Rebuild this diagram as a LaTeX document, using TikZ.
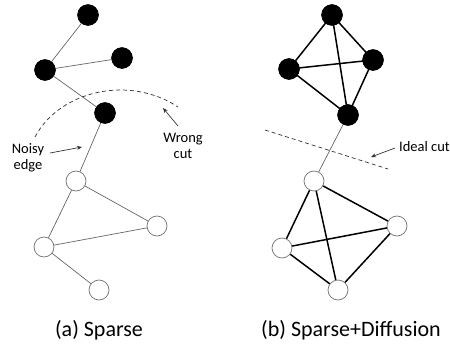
\documentclass[tikz,border=0pt]{standalone}
\usepackage{fontspec}
\setmainfont{Carlito}
\usetikzlibrary{arrows.meta}
\begin{document}
\begin{tikzpicture}[x=1pt,y=-1pt,
  bnode/.style={circle,fill=black,draw=black,minimum size=21pt,inner sep=0pt},
  wnode/.style={circle,fill=white,draw=black!55,line width=0.7pt,minimum size=20pt,inner sep=0pt},
  thin edge/.style={draw=black!60,line width=0.7pt},
  thick edge/.style={draw=black,line width=1.5pt},
  cutline/.style={draw=black!80,line width=0.7pt,dash pattern=on 4pt off 3pt},
  pointer/.style={draw=black!80,line width=0.7pt,-{Stealth[length=5pt,width=4pt]}},
  lbl/.style={font=\fontsize{14.5}{16.5}\selectfont,align=center,inner sep=0pt},
  captxt/.style={font=\fontsize{22}{25}\selectfont,inner sep=0pt}]
\useasboundingbox (0,0) rectangle (450,348);
% left panel
\node[bnode] (a1) at (88,15) {};
\node[bnode] (a2) at (45,70) {};
\node[bnode] (a3) at (122,58) {};
\node[bnode] (a4) at (105,113) {};
\node[wnode] (a5) at (76,181) {};
\node[wnode] (a6) at (157,226) {};
\node[wnode] (a7) at (44,247) {};
\node[wnode] (a8) at (99,290) {};
\draw[thin edge] (a1) -- (a2.center);
\draw[thin edge] (a2.center) -- (a3);
\draw[thin edge] (a2.center) -- (a4);
\draw[thin edge] (a4) -- (a5);
\draw[thin edge] (a5) -- (a6);
\draw[thin edge] (a5) -- (a7);
\draw[thin edge] (a7) -- (a6);
\draw[thin edge] (a7) -- (a8);
\coordinate (wc1) at (35,137);
\coordinate (wc2) at (178,107);
\draw[cutline] (wc1) .. controls (60,90) and (130,75) .. (wc2);
\node[lbl] (noisy) at (28,158) {Noisy\\edge};
\coordinate (noisyend) at (82,147);
\draw[pointer] (50,153) -- (noisyend);
\node[lbl] (wrong) at (183,146) {Wrong\\cut};
\coordinate (wrongend) at (163,108);
\draw[pointer] (178,126) -- (wrongend);
\node[captxt] (capa) at (99,330) {(a) Sparse};
% right panel
\node[bnode] (b1) at (332,15) {};
\node[bnode] (b2) at (289,69) {};
\node[bnode] (b3) at (373,60) {};
\node[bnode] (b4) at (348,115) {};
\node[wnode] (b5) at (314,181) {};
\node[wnode] (b6) at (397,226) {};
\node[wnode] (b7) at (282,248) {};
\node[wnode] (b8) at (338,290) {};
\draw[thick edge] (b1.center) -- (b2.center) -- (b4.center) -- (b3.center) -- cycle;
\draw[thick edge] (b1.center) -- (b4.center);
\draw[thick edge] (b2.center) -- (b3.center);
\draw[thin edge] (b4) -- (b5);
\draw[thick edge] (b5) -- (b7) -- (b8) -- (b6) -- (b5);
\draw[thick edge] (b5) -- (b8);
\draw[thick edge] (b7) -- (b6);
\coordinate (ic1) at (265,130);
\coordinate (ic2) at (388,169);
\draw[cutline] (ic1) -- (ic2);
\node[lbl,anchor=west] (ideal) at (399,147) {Ideal cut};
\coordinate (idealend) at (371,157);
\draw[pointer] (395,148) -- (idealend);
\node[captxt] (capb) at (351,330) {(b) Sparse+Diffusion};
% redraw black nodes on top
\foreach \n in {a1,a2,a3,a4,b1,b2,b3,b4} {\fill (\n.center) circle (10.5pt);}
\end{tikzpicture}
\end{document}
